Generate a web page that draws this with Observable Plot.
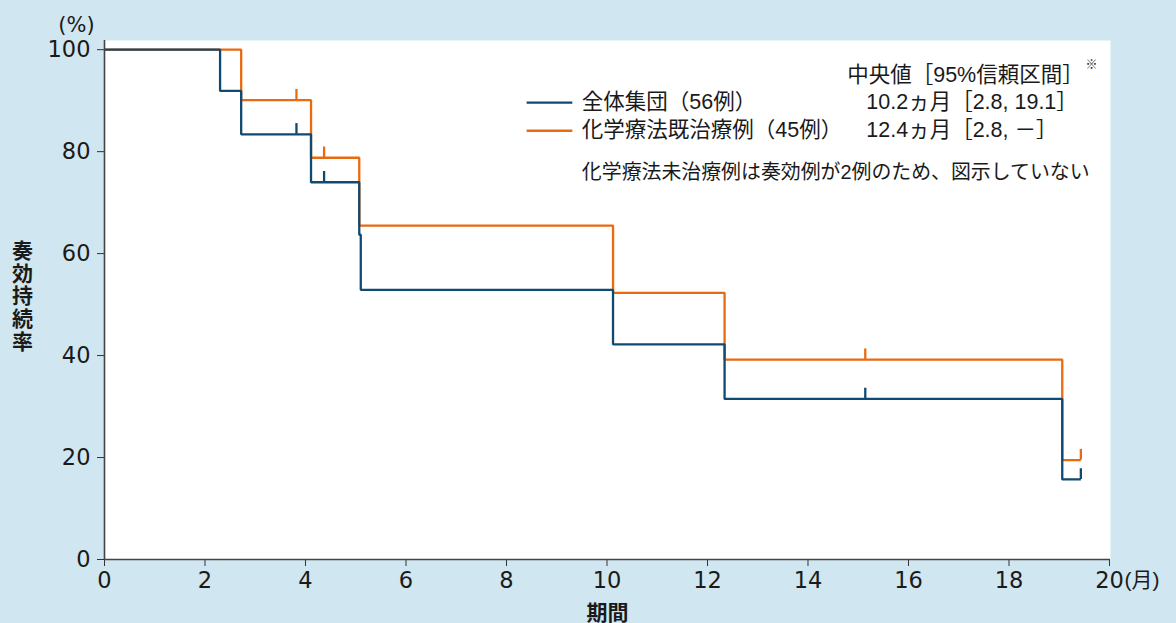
<!DOCTYPE html>
<html><head><meta charset="utf-8">
<script src="https://cdn.jsdelivr.net/npm/d3@7"></script>
<script src="https://cdn.jsdelivr.net/npm/@observablehq/plot@0.6"></script>
<style>
html,body{margin:0;padding:0;background:#d0e6f1;}
#chart svg{display:block;}
</style></head><body><div id="chart"></div>
<script>
const FONT = '"Liberation Sans", "Noto Sans CJK JP", sans-serif';
const TICKFONT = '"DejaVu Sans", "Liberation Sans", sans-serif';
const BLUE = "#0f4a72";
const ORANGE = "#ea6a10";

// 全体集団（56例）
const allTimes = [0, 2.30, 2.72, 4.11, 5.07, 5.10, 10.12, 12.34, 19.06, 19.43];
const allSurv  = [100, 91.9, 83.4, 74.0, 63.7, 52.9, 42.2, 31.5, 15.7, 15.7];
const allCensorTimes = [3.82, 4.37, 15.14, 19.43];
const allCensorSurv  = [83.4, 74.0, 31.5, 15.7];

// 化学療法既治療例（45例）
const preTimes = [0, 2.72, 4.11, 5.07, 10.12, 12.34, 19.06, 19.43];
const preSurv  = [100, 90.1, 78.8, 65.5, 52.3, 39.2, 19.5, 19.5];
const preCensorTimes = [3.82, 4.37, 15.14, 19.43];
const preCensorSurv  = [90.1, 78.8, 39.2, 19.5];

const xTicks = [0, 2, 4, 6, 8, 10, 12, 14, 16, 18, 20];
const yTicks = [0, 20, 40, 60, 80, 100];

const seriesLabels = ["全体集団（56例）", "化学療法既治療例（45例）"];
const seriesMedians = ["10.2ヵ月［2.8, 19.1］", "12.4ヵ月［2.8, －］"];
const medianHeader = "中央値［95%信頼区間］";
const noteText = "化学療法未治療例は奏効例が2例のため、図示していない";

const zip = (ts, ss) => ts.map((t, i) => ({t, s: ss[i]}));
const allData = zip(allTimes, allSurv);
const preData = zip(preTimes, preSurv);
const allCens = zip(allCensorTimes, allCensorSurv);
const preCens = zip(preCensorTimes, preCensorSurv);

const legendRows = [
  {label: seriesLabels[0], median: seriesMedians[0], color: BLUE, y: 89.6},
  {label: seriesLabels[1], median: seriesMedians[1], color: ORANGE, y: 84.1}
];

const lineOpts = {strokeWidth: 2.3, strokeLinejoin: "miter", strokeLinecap: "butt", curve: "step-after"};
const tickH = 2.1;
const TXT = "#1a1a1a";

const chart = Plot.plot({
  width: 1176, height: 623,
  marginLeft: 104, marginRight: 66, marginTop: 40, marginBottom: 64,
  style: {background: "#d0e6f1", fontFamily: FONT, fontSize: "21px", color: TXT, overflow: "visible"},
  x: {domain: [0, 20.02]},
  y: {domain: [0, 101.8]},
  marks: [
    Plot.frame({fill: "white", stroke: "none"}),
    Plot.axisX({ticks: xTicks, tickSize: 7, label: null, tickFormat: () => "", stroke: "#333"}),
    Plot.axisY({ticks: yTicks, tickSize: 7, label: null, tickFormat: () => "", stroke: "#333"}),
    // tick labels
    Plot.text(xTicks, {x: d => d, frameAnchor: "bottom", dy: 21, text: d => String(d), textAnchor: "middle", lineAnchor: "middle", fontFamily: TICKFONT, fontSize: 22.5, fill: TXT}),
    Plot.text(yTicks, {y: d => d, frameAnchor: "left", dx: -14, text: d => String(d), textAnchor: "end", lineAnchor: "middle", fontFamily: TICKFONT, fontSize: 22.5, fill: TXT}),
    Plot.line(preData, {x: "t", y: "s", stroke: ORANGE, ...lineOpts}),
    Plot.ruleX(preCens, {x: "t", y1: "s", y2: d => d.s + tickH, stroke: ORANGE, strokeWidth: 2.3}),
    Plot.line(allData, {x: "t", y: "s", stroke: BLUE, ...lineOpts}),
    Plot.ruleX(allCens, {x: "t", y1: "s", y2: d => d.s + tickH, stroke: BLUE, strokeWidth: 2.3}),
    Plot.ruleX([0], {stroke: "#444", strokeWidth: 1.6}),
    Plot.ruleY([0], {stroke: "#444", strokeWidth: 1.6}),
    // legend
    Plot.link(legendRows, {x1: () => 8.40, x2: () => 9.31, y1: "y", y2: "y", stroke: "color", strokeWidth: 2.3}),
    Plot.text(legendRows, {x: () => 9.50, y: d => d.y + 0.1, text: "label", textAnchor: "start", lineAnchor: "middle", fontSize: 21.5, fill: TXT}),
    Plot.text(legendRows, {x: () => 15.16, y: d => d.y + 0.1, text: "median", textAnchor: "start", lineAnchor: "middle", fontSize: 21.5, fill: TXT}),
    Plot.text([medianHeader], {x: () => 14.78, y: () => 95.0, text: d => d, textAnchor: "start", lineAnchor: "middle", fontSize: 21.5, fill: TXT}),
    Plot.text(["※"], {x: () => 19.64, y: () => 97.0, text: d => d, textAnchor: "middle", lineAnchor: "middle", fontSize: 12, fill: TXT}),
    Plot.text([noteText], {x: () => 9.50, y: () => 75.8, text: d => d, textAnchor: "start", lineAnchor: "middle", fontSize: 19.9, fill: TXT}),
    // outer labels
    Plot.text(["(%)"], {frameAnchor: "top-left", dx: -28, dy: -15, text: d => d, textAnchor: "middle", lineAnchor: "middle", fontSize: 21, fontFamily: TICKFONT, fill: TXT}),
    Plot.text(["奏\n効\n持\n続\n率"], {frameAnchor: "left", dx: -82, dy: -4, text: d => d, textAnchor: "middle", lineAnchor: "middle", lineHeight: 1.08, fontSize: 21, fontWeight: "bold", fill: TXT}),
    Plot.text(["期間"], {frameAnchor: "bottom", dy: 54, text: d => d, textAnchor: "middle", lineAnchor: "middle", fontSize: 21, fontWeight: "bold", fill: TXT}),
    Plot.text(["(月)"], {x: () => 20, frameAnchor: "bottom", dx: 15, dy: 21, text: d => d, textAnchor: "start", lineAnchor: "middle", fontSize: 21, fill: TXT})
  ]
});
document.getElementById("chart").appendChild(chart);
</script>
</body></html>
